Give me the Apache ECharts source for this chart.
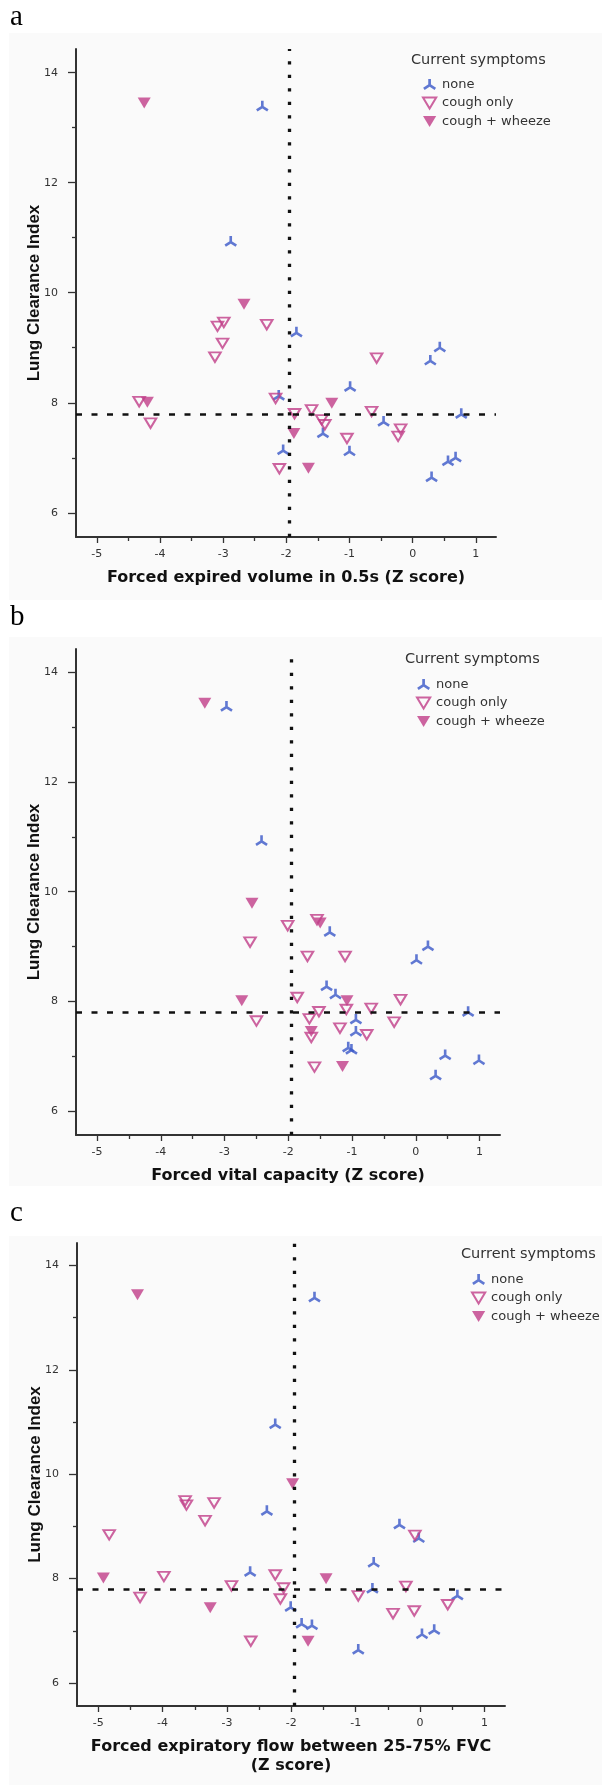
<!DOCTYPE html>
<html>
<head>
<meta charset="utf-8">
<script src="https://cdn.jsdelivr.net/npm/echarts@6/dist/echarts.min.js"></script>
<style>
  html, body { margin: 0; padding: 0; background: #fff; }
  #chart { width: 605px; height: 1785px; }
</style>
</head>
<body>
<div id="chart"></div>
<script>
// ticks
const xTicks = [-5, -4, -3, -2, -1, 0, 1]
const xMinorTicks = [-4.5, -3.5, -2.5, -1.5, -0.5, 0.5]
const yTicks = [6, 8, 10, 12, 14]
const yMinorTicks = [7, 9, 11, 13]
const groups = ['none', 'cough only', 'cough + wheeze']
const refX = -1.96   // z score cut-off
const refY = 7.8     // LCI upper limit

// a: forced expired volume in 0.5s
const noneA_x = [-2.38, -2.88, -1.84, -0.99, 0.28, 0.43, 0.77, -0.46, -1.42, -1.00, 0.56, 0.68, 0.30, -2.05, -2.12]
const noneA_y = [13.38, 10.92, 9.27, 8.28, 8.76, 9.00, 7.79, 7.65, 7.44, 7.11, 6.93, 7.00, 6.64, 7.13, 8.12]
const coughA_x = [-4.33, -4.15, -3.09, -2.99, -3.01, -3.13, -2.31, -2.17, -2.11, -1.87, -1.60, -1.44, -1.39, -1.04, -0.65, -0.57, -0.19, -0.23]
const coughA_y = [8.02, 7.63, 9.39, 9.46, 9.08, 8.83, 9.42, 8.08, 6.80, 7.80, 7.87, 7.69, 7.60, 7.35, 7.84, 8.81, 7.52, 7.39]
const wheezeA_x = [-4.25, -2.67, -4.20, -1.28, -1.88, -1.65]
const wheezeA_y = [13.45, 9.79, 8.01, 7.99, 7.44, 6.81]

// b: forced vital capacity
const noneB_x = [-2.97, -2.42, -1.35, -1.40, -1.26, -0.94, -0.94, -1.06, -1.01, 0.01, 0.19, 0.82, 0.46, 0.99, 0.31]
const noneB_y = [13.37, 10.92, 9.26, 8.27, 8.12, 7.66, 7.44, 7.15, 7.11, 8.75, 9.00, 7.80, 7.01, 6.92, 6.64]
const coughB_x = [-2.60, -2.50, -2.01, -1.55, -1.70, -1.11, -1.86, -1.52, -1.67, -1.64, -1.09, -0.70, -0.24, -1.19, -0.77, -0.34, -1.59]
const coughB_y = [9.08, 7.64, 9.38, 9.49, 8.82, 8.82, 8.07, 7.81, 7.68, 7.34, 7.85, 7.87, 8.03, 7.51, 7.39, 7.62, 6.80]
const wheezeB_x = [-3.31, -2.57, -2.73, -1.50, -1.08, -1.64, -1.15]
const wheezeB_y = [13.44, 9.79, 8.01, 9.43, 8.01, 7.45, 6.81]

// c: forced expiratory flow 25-75%
const noneC_x = [-1.64, -2.25, -2.38, -2.64, -2.01, -1.84, -1.68, -0.96, -0.72, -0.74, -0.32, -0.02, 0.03, 0.22, 0.58]
const noneC_y = [13.38, 10.95, 9.29, 8.12, 7.45, 7.13, 7.10, 6.63, 8.30, 7.80, 9.03, 8.77, 6.93, 7.01, 7.67]
const coughC_x = [-3.65, -3.63, -3.20, -3.34, -4.83, -3.98, -4.35, -2.93, -2.25, -2.12, -2.17, -2.63, -0.96, -0.22, -0.42, -0.09, -0.08, 0.43]
const coughC_y = [9.49, 9.41, 9.45, 9.11, 8.84, 8.04, 7.64, 7.86, 8.07, 7.82, 7.61, 6.80, 7.67, 7.85, 7.33, 7.38, 8.83, 7.50]
const wheezeC_x = [-4.39, -1.98, -4.92, -1.46, -3.26, -1.74]
const wheezeC_y = [13.44, 9.82, 8.01, 8.00, 7.44, 6.80]

const X_MIN = -5.33, X_MAX = 1.32
const Y_MIN = 5.56, Y_MAX = 14.43

const BLUE = '#3a58c8'
const MAG = '#c13d88'
const AXIS = '#333'
const triDown = 'path://M0,0L12,0L6,10Z'
// three-spoke "none" marker, junction at 0,0
const spoke = 'path://M1.3,0L1.3,-6L-1.3,-6L-1.3,0Z M-0.698,1.097L4.802,4.597L6.198,2.403L0.698,-1.097Z M-0.698,-1.097L-6.198,2.403L-4.802,4.597L0.698,1.097Z'

function pairs(xs, ys) { return xs.map((x, i) => [x, ys[i]]) }

const titleFont = { fontFamily: 'DejaVu Sans', fontWeight: 'bold', fontSize: 16, color: '#111' }
const tickFont = { fontFamily: 'DejaVu Sans', fontSize: 11, color: AXIS }

function xAxes(g, name) {
  return [{
    type: 'value', gridIndex: g, min: X_MIN, max: X_MAX, position: 'bottom',
    name: name, nameLocation: 'middle', nameGap: 31, nameMoveOverlap: false,
    nameTextStyle: Object.assign({ lineHeight: 19 }, titleFont),
    axisLine: { show: true, onZero: false, lineStyle: { color: AXIS, width: 2 } },
    axisTick: { show: true, length: 6, customValues: xTicks, lineStyle: { color: AXIS, width: 1.3 } },
    axisLabel: Object.assign({ customValues: xTicks, margin: 12 }, tickFont),
    splitLine: { show: false }
  }, {
    type: 'value', gridIndex: g, min: X_MIN, max: X_MAX, position: 'bottom',
    axisLine: { show: false, onZero: false },
    axisTick: { show: true, length: 4, customValues: xMinorTicks, lineStyle: { color: AXIS, width: 1.3 } },
    axisLabel: { show: false },
    splitLine: { show: false }
  }]
}

function yAxes(g) {
  return [{
    type: 'value', gridIndex: g, min: Y_MIN, max: Y_MAX, position: 'left',
    name: 'Lung Clearance Index', nameLocation: 'middle', nameGap: 33, nameRotate: 90, nameMoveOverlap: false,
    nameTextStyle: { fontFamily: 'Liberation Sans', fontWeight: 'bold', fontSize: 17, color: '#111' },
    axisLine: { show: true, onZero: false, lineStyle: { color: AXIS, width: 2 } },
    axisTick: { show: true, length: 8, customValues: yTicks, lineStyle: { color: AXIS, width: 1.3 } },
    axisLabel: Object.assign({ customValues: yTicks, margin: 18 }, tickFont),
    splitLine: { show: false }
  }, {
    type: 'value', gridIndex: g, min: Y_MIN, max: Y_MAX, position: 'left',
    axisLine: { show: false, onZero: false },
    axisTick: { show: true, length: 4, customValues: yMinorTicks, lineStyle: { color: AXIS, width: 1.3 } },
    axisLabel: { show: false },
    splitLine: { show: false }
  }]
}

function panelSeries(g, none, cough, wheeze) {
  const ax = { xAxisIndex: g * 2, yAxisIndex: g * 2 }
  return [
    Object.assign({
      name: groups[0], type: 'scatter', data: none,
      symbol: spoke, symbolSize: [12.5, 10.7], symbolOffset: [0, -0.7],
      itemStyle: { color: BLUE },
      markLine: {
        silent: true, symbol: 'none', label: { show: false }, animation: false,
        data: [
          { xAxis: refX, lineStyle: { type: [3.3, 10.2], width: 3.3, color: '#111', cap: 'butt' } },
          { yAxis: refY, lineStyle: { type: [6, 9.5], width: 2.7, color: '#111', cap: 'butt' } }
        ]
      }
    }, ax),
    Object.assign({
      name: groups[1], type: 'scatter', data: cough,
      symbol: triDown, symbolSize: [11.5, 9.5],
      itemStyle: { color: 'rgba(255,255,255,0)', borderColor: MAG, borderWidth: 2 }
    }, ax),
    Object.assign({
      name: groups[2], type: 'scatter', data: wheeze,
      symbol: triDown, symbolSize: [13, 11],
      itemStyle: { color: MAG }
    }, ax)
  ]
}

function legendAt(left, top) {
  return {
    data: groups, orient: 'vertical', left: left, top: top,
    itemWidth: 15, itemHeight: 11, itemGap: 5.5, selectedMode: false,
    textStyle: { fontFamily: 'DejaVu Sans', fontSize: 13, color: AXIS }
  }
}

function bg(top, bottom) {
  return { type: 'rect', z: -10, silent: true, shape: { x: 9, y: top, width: 593, height: bottom - top }, style: { fill: '#fafafa' } }
}
function letter(t, y) {
  return { type: 'text', x: 10, y: y, style: { text: t, font: '29px "Liberation Serif"', fill: '#000', verticalAlign: 'top' } }
}
function legendTitle(x, y) {
  return { type: 'text', x: x, y: y, style: { text: 'Current symptoms', font: '14.5px "DejaVu Sans"', fill: AXIS, verticalAlign: 'middle' } }
}

const chart = echarts.init(document.getElementById('chart'))
chart.setOption({
  animation: false,
  backgroundColor: '#fff',
  grid: [
    { left: 76, top: 49, width: 420, height: 488 },
    { left: 76, top: 649, width: 424, height: 486 },
    { left: 77, top: 1243, width: 428, height: 463 }
  ],
  xAxis: [].concat(
    xAxes(0, 'Forced expired volume in 0.5s (Z score)'),
    xAxes(1, 'Forced vital capacity (Z score)'),
    xAxes(2, 'Forced expiratory flow between 25-75% FVC\n(Z score)')
  ),
  yAxis: [].concat(yAxes(0), yAxes(1), yAxes(2)),
  legend: [legendAt(417, 73), legendAt(411, 673), legendAt(466, 1268)],
  graphic: [
    bg(33, 600), bg(637, 1186), bg(1236, 1785),
    letter('a', 3), letter('b', 603), letter('c', 1199),
    legendTitle(411, 60), legendTitle(405, 659), legendTitle(461, 1254)
  ],
  series: [].concat(
    panelSeries(0, pairs(noneA_x, noneA_y), pairs(coughA_x, coughA_y), pairs(wheezeA_x, wheezeA_y)),
    panelSeries(1, pairs(noneB_x, noneB_y), pairs(coughB_x, coughB_y), pairs(wheezeB_x, wheezeB_y)),
    panelSeries(2, pairs(noneC_x, noneC_y), pairs(coughC_x, coughC_y), pairs(wheezeC_x, wheezeC_y))
  )
})
</script>
</body>
</html>
